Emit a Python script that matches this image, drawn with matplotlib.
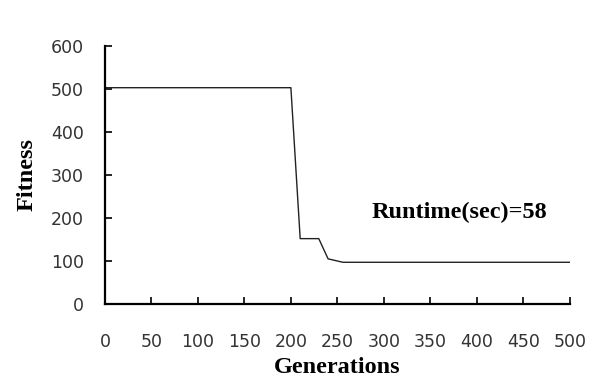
import numpy as np
import matplotlib
matplotlib.use("Agg")
import matplotlib.pyplot as plt

# data
generations = [0, 200, 210, 230, 240, 256, 500]
fitness = [503, 503, 152, 152, 105, 97, 97]

xticks = [0, 50, 100, 150, 200, 250, 300, 350, 400, 450, 500]
yticks = [0, 100, 200, 300, 400, 500, 600]

fig = plt.figure(figsize=(6.03, 3.8), dpi=100)
ax = fig.add_axes([0.174, 0.2, 0.771, 0.679])

ax.plot(generations, fitness, color="#222222", linewidth=1.0)

ax.set_xlim(0, 500)
ax.set_ylim(0, 600)
ax.set_xticks(xticks)
ax.set_yticks(yticks)

for s in ["top", "right"]:
    ax.spines[s].set_visible(False)
for s in ["left", "bottom"]:
    ax.spines[s].set_linewidth(1.6)

ax.tick_params(axis="both", direction="in", length=5, width=1.2,
               labelsize=12.5, labelcolor="#333333")
ax.tick_params(axis="x", pad=21)
ax.tick_params(axis="y", pad=15)
for lab in ax.get_xticklabels() + ax.get_yticklabels():
    lab.set_fontfamily("DejaVu Sans")

ax.set_xlabel("Generations", fontfamily="Liberation Serif", fontweight="bold",
              fontsize=17.5, labelpad=4)
ax.set_ylabel("Fitness", fontfamily="Liberation Serif", fontweight="bold",
              fontsize=17.5, labelpad=10)

ax.text(287, 214, "Runtime(sec)=58", fontfamily="Liberation Serif",
        fontweight="bold", fontsize=17.5, va="center", ha="left")

fig.savefig("out.png", dpi=100)
